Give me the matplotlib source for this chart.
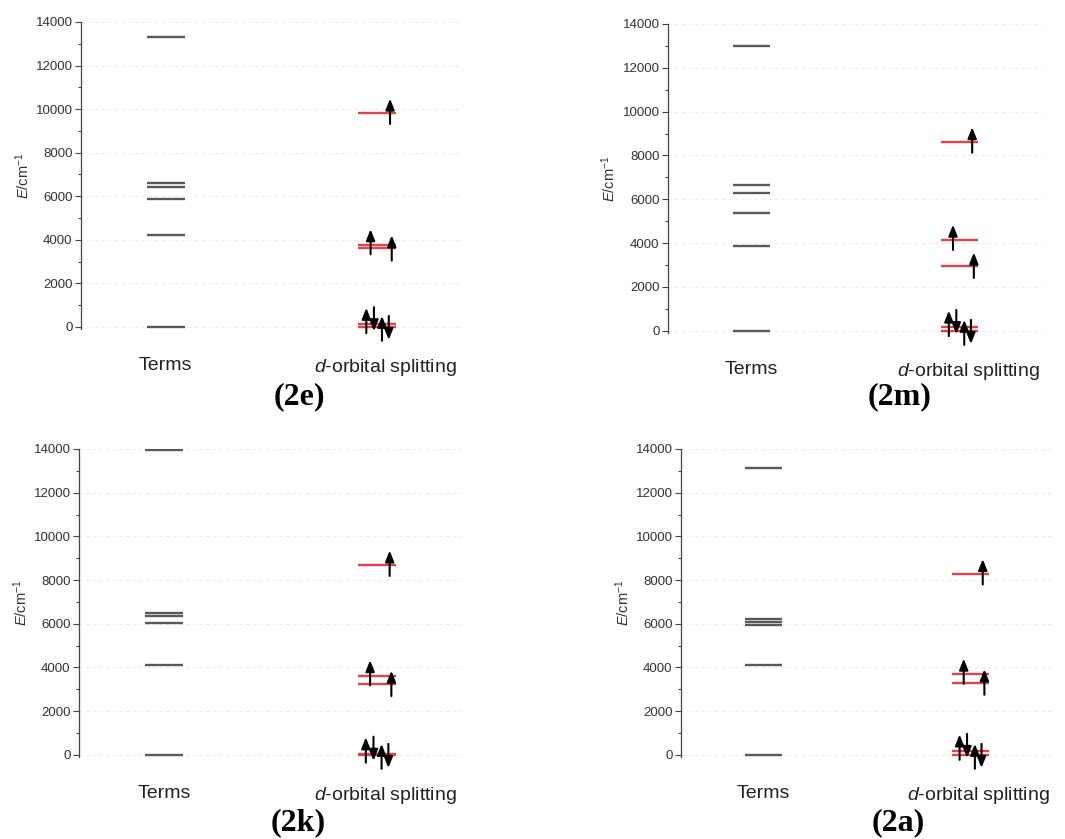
import numpy as np
import matplotlib
matplotlib.use('Agg')
import matplotlib.pyplot as plt
from matplotlib.ticker import MultipleLocator

plt.rcParams['font.family'] = ['Liberation Sans', 'DejaVu Sans']
plt.rcParams['mathtext.fontset'] = 'custom'
plt.rcParams['mathtext.rm'] = 'Liberation Sans'
plt.rcParams['mathtext.it'] = 'Liberation Sans:italic'

# energies (cm-1)
names = ['(2e)', '(2m)', '(2k)', '(2a)']
terms_2e = [0, 4240, 5870, 6420, 6590, 13320]
orb_2e = [0, 120, 3600, 3780, 9800]
terms_2m = [0, 3850, 5370, 6300, 6670, 12980]
orb_2m = [0, 170, 2970, 4140, 8610]
terms_2k = [0, 4120, 6030, 6340, 6490, 13940]
orb_2k = [0, 50, 3250, 3630, 8670]
terms_2a = [0, 4120, 5960, 6100, 6230, 13130]
orb_2a = [0, 180, 3310, 3700, 8280]
xlabels = ['Terms', '$d$-orbital splitting']

terms_all = [terms_2e, terms_2m, terms_2k, terms_2a]
orb_all = [orb_2e, orb_2m, orb_2k, orb_2a]

# axes boxes in pixels (left, top, right, bottom)
boxes = [(81, 22, 462, 329), (668, 24, 1043, 333),
         (79, 449, 462, 757), (681, 449, 1053, 757)]
label_pos = [(299, 397), (900, 397), (298, 823), (898, 823)]

W, H = 1065, 839
fig = plt.figure(figsize=(W / 100, H / 100), dpi=100)

gray = '#595959'
red = '#e3424c'
hw = 0.09


def arrow(ax, x, y0, y1):
    ax.annotate('', xy=(x, y1), xytext=(x, y0),
                arrowprops=dict(arrowstyle='-|>,head_length=0.55,head_width=0.22',
                                color='k', lw=1.5, shrinkA=0, shrinkB=0,
                                mutation_scale=12),
                annotation_clip=False)


for i in range(4):
    l, t, r, b = boxes[i]
    ax = fig.add_axes([l / W, 1 - b / H, (r - l) / W, (b - t) / H])
    ax.set_xlim(0.6, 2.4)
    ax.set_ylim(-100, 14000)

    ax.hlines(terms_all[i], 1 - hw, 1 + hw, colors=gray, lw=1.7, zorder=3)
    orb = orb_all[i]
    ax.hlines(orb, 2 - hw, 2 + hw, colors=red, lw=1.7, zorder=3)

    # electrons: two paired levels at the bottom, three singles above
    lo, hi = orb[0], orb[1]
    arrow(ax, 2 - 0.052, hi - 410, hi + 750)
    arrow(ax, 2 - 0.016, hi + 780, hi - 320)
    arrow(ax, 2 + 0.022, lo - 640, lo + 500)
    arrow(ax, 2 + 0.054, lo + 500, lo - 600)
    arrow(ax, 2 + 0.068, orb[2] - 560, orb[2] + 600)
    arrow(ax, 2 - 0.032, orb[3] - 450, orb[3] + 700)
    arrow(ax, 2 + 0.060, orb[4] - 480, orb[4] + 680)

    ax.yaxis.set_major_locator(MultipleLocator(2000))
    ax.yaxis.set_minor_locator(MultipleLocator(1000))
    ax.yaxis.grid(True, which='major', color='#ececec', ls=(0, (3, 3)), lw=0.8)
    ax.set_axisbelow(True)
    for s in ['top', 'right', 'bottom']:
        ax.spines[s].set_visible(False)
    ax.spines['left'].set_color('#444444')
    ax.spines['left'].set_linewidth(0.9)
    ax.tick_params(axis='y', which='major', length=4, width=0.8, color='#444444',
                   labelsize=9.5, labelcolor='#333333', pad=2)
    ax.tick_params(axis='y', which='minor', length=2.5, width=0.8, color='#444444')
    ax.set_xticks([1, 2.04])
    ax.set_xticklabels(xlabels, fontsize=14, color='#222222')
    ax.tick_params(axis='x', length=0, pad=20)
    ax.set_ylabel('$E$/cm$^{-1}$', fontsize=10.5, color='#333333', labelpad=3)

    x, y = label_pos[i]
    fig.text(x / W, 1 - y / H, names[i], ha='center', va='center',
             fontsize=23, fontweight='bold', family='Liberation Serif')

fig.savefig('out.png', dpi=100)
